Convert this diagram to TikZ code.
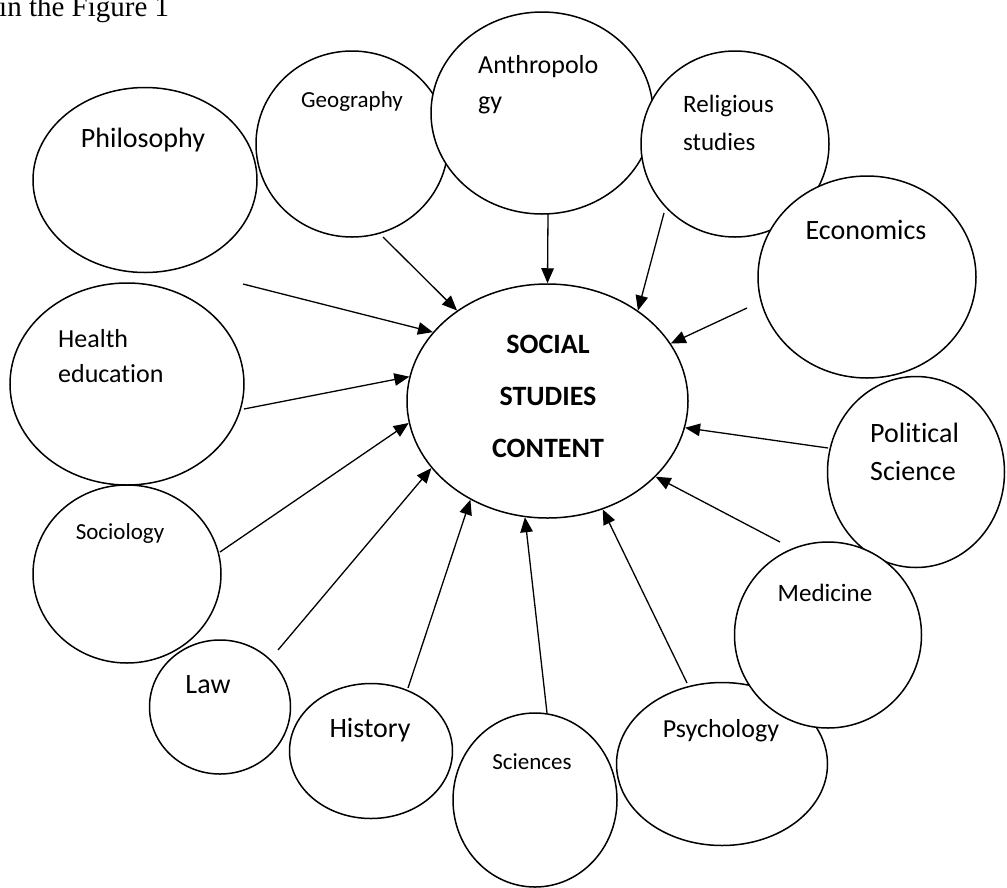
\documentclass[tikz,border=0pt]{standalone}
\usepackage{fontspec}
\setmainfont{Carlito}[Ligatures=NoCommon]
\newfontfamily\timesf{Liberation Serif}
\usetikzlibrary{shapes.geometric,arrows.meta}
\begin{document}
\begin{tikzpicture}[x=1pt,y=-1pt,
  bub/.style={draw,ellipse,fill=white,line width=1.5pt,inner sep=0pt},
  lab/.style={inner sep=0pt},
  arr/.style={line width=1.3pt,-{Triangle[length=15pt,width=12.5pt]}}]
\useasboundingbox (0,0) rectangle (1007,887);
% title
\node[lab,anchor=base west,font=\timesf\fontsize{29}{34}\selectfont] (title) at (-1,16) {in the Figure 1};
% bubbles
\node[bub,minimum width=224pt,minimum height=185pt] (phil) at (145,180) {};
\node[bub,minimum width=234pt,minimum height=202pt] (heal) at (127,384) {};
\node[bub,minimum width=188pt,minimum height=178pt] (soci) at (127,574) {};
\node[bub,minimum width=141pt,minimum height=134pt] (law) at (220,707) {};
\node[bub,minimum width=163pt,minimum height=135pt] (hist) at (371,751) {};
\node[bub,minimum width=164pt,minimum height=174pt] (scie) at (535,800) {};
\node[bub,minimum width=211pt,minimum height=163pt] (psyc) at (722,764) {};
\node[bub,minimum width=177pt,minimum height=191pt] (poli) at (916,472) {};
\node[bub,minimum width=187pt,minimum height=186pt] (medi) at (828,635) {};
\node[bub,minimum width=192pt,minimum height=186pt] (geog) at (352,144) {};
\node[bub,minimum width=222pt,minimum height=202pt] (anth) at (542,113) {};
\node[bub,minimum width=188pt,minimum height=186pt] (reli) at (735,144) {};
\node[bub,minimum width=218pt,minimum height=202pt] (econ) at (867,277) {};
\node[bub,minimum width=281pt,minimum height=234pt] (core) at (547.5,401) {};
% labels
\node[lab,font=\fontsize{28}{34}\selectfont] (philT) at (143,140) {Philosophy};
\node[lab,font=\fontsize{23}{28}\selectfont] (geogT) at (352,101) {Geography};
\node[lab,anchor=west,align=left,font=\fontsize{26}{36}\selectfont] (anthT) at (478,85) {Anthropolo\\gy};
\node[lab,anchor=west,align=left,font=\fontsize{25}{38}\selectfont] (reliT) at (683,123) {Religious\\studies};
\node[lab,font=\fontsize{28}{34}\selectfont] (econT) at (866,230) {Economics};
\node[lab,anchor=west,align=left,font=\fontsize{28}{38}\selectfont] (poliT) at (870,452) {Political\\Science};
\node[lab,font=\fontsize{25}{30}\selectfont] (mediT) at (825,593) {Medicine};
\node[lab,font=\fontsize{26}{30}\selectfont] (psycT) at (721,731) {Psychology};
\node[lab,font=\fontsize{23}{28}\selectfont] (scieT) at (532,762) {Sciences};
\node[lab,font=\fontsize{28}{34}\selectfont] (histT) at (370,730) {History};
\node[lab,font=\fontsize{28}{34}\selectfont] (lawT) at (208,685) {Law};
\node[lab,font=\fontsize{23}{28}\selectfont] (sociT) at (120,533) {Sociology};
\node[lab,anchor=west,align=left,font=\fontsize{26}{35}\selectfont] (healT) at (58,356) {Health\\education};
\node[lab,align=center,font=\bfseries\fontsize{28}{52}\selectfont] (coreT) at (548,396) {SOCIAL\\STUDIES\\CONTENT};
% arrow start points
\coordinate (sPhil) at (243,284);
\coordinate (sGeog) at (383,237);
\coordinate (sAnth) at (548,214);
\coordinate (sReli) at (664,213);
\coordinate (sEcon) at (747,308);
\coordinate (sPoli) at (828,448);
\coordinate (sMedi) at (780,542);
\coordinate (sPsyc) at (687,683);
\coordinate (sScie) at (547,713);
\coordinate (sHist) at (408,688);
\coordinate (sLaw) at (278,650);
\coordinate (sSoci) at (220,552);
\coordinate (sHeal) at (244,409);
% arrows
\draw[arr] (sPhil) -- (core.149);
\draw[arr] (sGeog) -- (core.135);
\draw[arr] (sAnth) -- (core.90);
\draw[arr] (sReli) -- (core.45.5);
\draw[arr] (sEcon) -- (core.25);
\draw[arr] (sPoli) -- (core.-11);
\draw[arr] (sMedi) -- (core.-35);
\draw[arr] (sPsyc) -- (core.-63);
\draw[arr] (sScie) -- (core.-101);
\draw[arr] (sHist) -- (core.-128);
\draw[arr] (sLaw) -- (core.-150);
\draw[arr] (sSoci) -- (core.-171);
\draw[arr] (sHeal) -- (core.170);
\end{tikzpicture}
\end{document}
